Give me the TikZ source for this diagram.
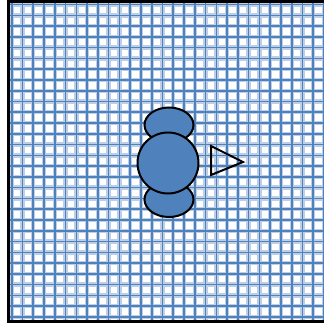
\documentclass[tikz,border=0pt]{standalone}
\usetikzlibrary{shapes.geometric}
\definecolor{obl}{HTML}{4F81BD}
\tikzset{
  gridhalo/.style={draw=obl!38, line width=4.4pt},
  gridcore/.style={draw=obl, line width=1.6pt},
  shapefill/.style={fill=obl, draw=black, line width=2pt},
}
\begin{document}
\begin{tikzpicture}[x=1pt,y=-1pt]
\useasboundingbox (0,0) rectangle (324,323);
\fill[white] (0,0) rectangle (324,323);
\begin{scope}
\clip (8.7,1.4) rectangle (324,321.3);
\foreach \k in {0,...,29} {
  \draw[gridhalo] ({11.7+10.77*\k},0) -- ({11.7+10.77*\k},323);
  \draw[gridhalo] (0,{4.6+10.77*\k}) -- (324,{4.6+10.77*\k});
}
\foreach \k in {0,...,29} {
  \draw[gridcore] ({11.7+10.77*\k},0) -- ({11.7+10.77*\k},323);
  \draw[gridcore] (0,{4.6+10.77*\k}) -- (324,{4.6+10.77*\k});
}
\end{scope}
\draw[black, line width=2.7pt] (330,1.4) -- (8.7,1.4) -- (8.7,321.3) -- (330,321.3);
\node[shapefill, ellipse, minimum width=49pt, minimum height=35pt, inner sep=0pt] (top) at (169,125) {};
\node[shapefill, ellipse, minimum width=49pt, minimum height=35pt, inner sep=0pt] (bot) at (169,199.5) {};
\node[shapefill, circle, minimum size=61pt, inner sep=0pt] (mid) at (168,163) {};
\coordinate (t1) at (211,146);
\coordinate (t2) at (211,175);
\coordinate (t3) at (243,162);
\draw[black, line width=2pt] (t1) -- (t3) -- (t2) -- cycle;
\end{tikzpicture}
\end{document}
